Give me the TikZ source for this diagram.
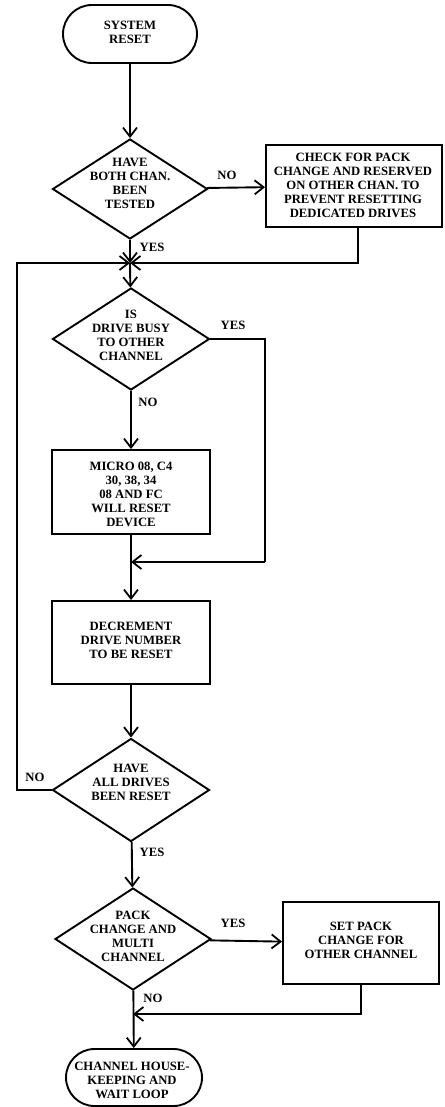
\documentclass[tikz,border=0pt]{standalone}
\usepackage{fontspec}
\setmainfont{Liberation Serif}
\usetikzlibrary{shapes.geometric,shapes.misc,arrows.meta}
\begin{document}
\begin{tikzpicture}[x=1pt,y=-1pt,
  every node/.style={font=\fontsize{12.7}{14}\selectfont\bfseries},
  line/.style={line width=1.9pt},
  arr/.style={line width=1.9pt,-{Straight Barb[length=9pt,width=14pt,line width=1.8pt]}},
  term/.style={rounded rectangle,draw,line width=1.9pt,inner sep=0pt},
  dia/.style={diamond,draw,line width=1.9pt,inner sep=0pt},
  boxx/.style={rectangle,draw,line width=1.9pt,inner sep=0pt},
  txt/.style={align=center,inner sep=0pt},
  lab/.style={inner sep=0pt}]
\useasboundingbox (0,0) rectangle (444,1107);
% shapes
\node[term,minimum width=134pt,minimum height=58pt] (reset) at (130,34) {};
\node[txt] (resett) at (130,32) {SYSTEM\\RESET};
\node[dia,minimum width=155pt,minimum height=100pt] (d1) at (130,189) {};
\node[txt] (d1t) at (130,183) {HAVE\\BOTH CHAN.\\BEEN\\TESTED};
\node[boxx,minimum width=176pt,minimum height=82pt] (b1) at (354,186) {};
\node[txt] (b1t) at (353,185) {CHECK FOR PACK\\CHANGE AND RESERVED\\ON OTHER CHAN. TO\\PREVENT RESETTING\\DEDICATED DRIVES};
\coordinate (j1) at (130,263);
\coordinate (lx) at (17,263);
\node[dia,minimum width=157pt,minimum height=102pt] (d2) at (131,339) {};
\node[txt] (d2t) at (131,335) {IS\\DRIVE BUSY\\TO OTHER\\CHANNEL};
\coordinate (r2) at (265,562);
\node[boxx,minimum width=158pt,minimum height=84pt] (b2) at (131,492) {};
\node[txt] (b2t) at (131,494) {MICRO 08, C4\\30, 38, 34\\08 AND FC\\WILL RESET\\DEVICE};
\coordinate (j2) at (131,562);
\node[boxx,minimum width=158pt,minimum height=83pt] (b3) at (131,642.5) {};
\node[txt] (b3t) at (131,640) {DECREMENT\\DRIVE NUMBER\\TO BE RESET};
\node[dia,minimum width=157pt,minimum height=103pt] (d3) at (131,790) {};
\node[txt] (d3t) at (131,782) {HAVE\\ALL DRIVES\\BEEN RESET};
\node[dia,minimum width=156pt,minimum height=102pt] (d4) at (133,939) {};
\node[txt] (d4t) at (133,936) {PACK\\CHANGE AND\\MULTI\\CHANNEL};
\node[boxx,minimum width=156pt,minimum height=82pt] (b4) at (361,943) {};
\node[txt] (b4t) at (361,940) {SET PACK\\CHANGE FOR\\OTHER CHANNEL};
\coordinate (j3) at (133,1014);
\node[term,minimum width=136pt,minimum height=57pt] (end) at (134,1077.5) {};
\node[txt] (endt) at (132,1080) {CHANNEL HOUSE-\\KEEPING AND\\WAIT LOOP};
% labels
\node[lab] (l1) at (227,175) {NO};
\node[lab] (l2) at (152,247) {YES};
\node[lab] (l3) at (233,325) {YES};
\node[lab] (l4) at (148,402) {NO};
\node[lab] (l5) at (35,777) {NO};
\node[lab] (l6) at (152,852) {YES};
\node[lab] (l7) at (233,923) {YES};
\node[lab] (l8) at (153,998) {NO};
% connectors
\draw[arr] (reset) -- (d1);
\draw[arr] (d1) -- (b1);
\draw[arr] (d1) -- (j1);
\draw[arr] ([xshift=4pt]b1.south) |- (j1);
\draw[arr] (d3.west) -| (lx) -- (j1);
\draw[arr] (j1) -- (d2);
\draw[arr] (d2) -- (b2);
\draw[line] (d2.east) -| (r2);
\draw[arr] (r2) -- (j2);
\draw[line] (b2) -- (j2);
\draw[arr] (j2) -- (b3);
\draw[arr] (b3) -- (d3);
\draw[arr] (d3) -- (d4);
\draw[arr] (d4) -- (b4);
\draw[arr] (b4.south) |- (j3);
\draw[arr] (d4) -- (end);
\end{tikzpicture}
\end{document}
